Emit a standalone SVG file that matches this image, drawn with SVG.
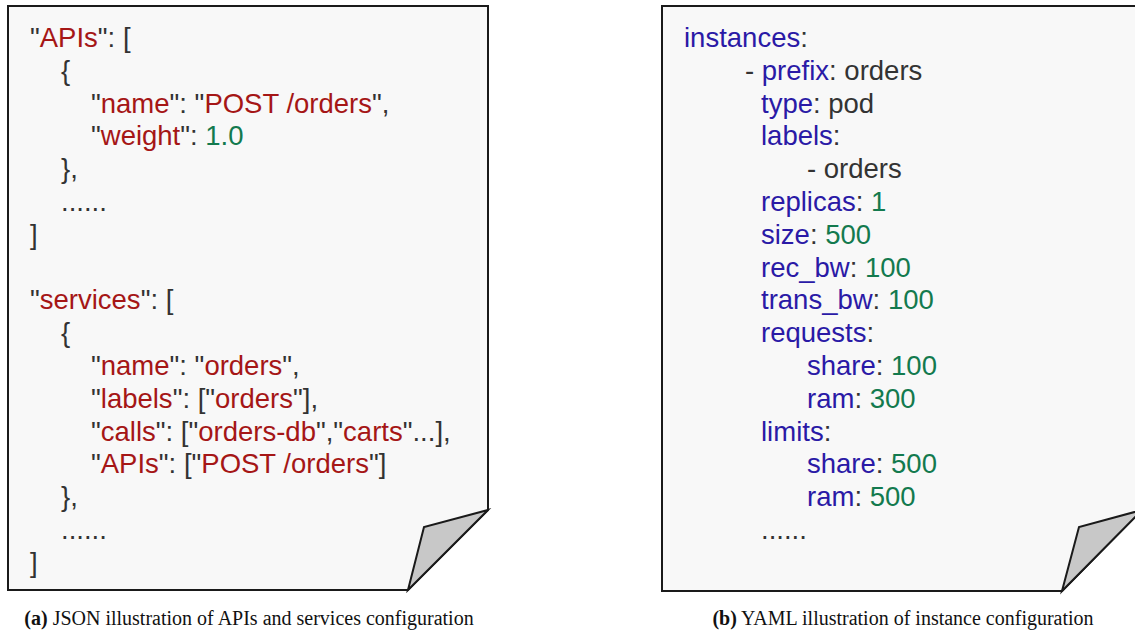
<svg xmlns="http://www.w3.org/2000/svg" width="1135" height="635" viewBox="0 0 1135 635">
<style>
.page{fill:#f8f8f8;stroke:#1a1a1a;stroke-width:2;stroke-linejoin:miter}
.fold{fill:#c8c8c8;stroke:#1a1a1a;stroke-width:2;stroke-linejoin:miter}
.code{font-family:"Liberation Sans",Arial,sans-serif;font-size:27.5px;fill:#333333}
.s{fill:#a51616}
.n{fill:#137a4e}
.k{fill:#2a1aa6}
.cap{font-family:"Liberation Serif","Times New Roman",serif;font-size:20px;fill:#111111;text-anchor:middle}
.b{font-weight:bold}
</style>
<rect width="1135" height="635" fill="#ffffff"/>
<g id="json-doc">
<path class="page" d="M8,6 H488 V510 L408,590 H8 Z"/>
<path class="fold" d="M408,590 L424,527 L488,510 Z"/>
<g class="code">
<text x="30" y="47">"<tspan class="s">APIs</tspan>": [</text>
<text x="61" y="79.8">{</text>
<text x="91" y="112.6">"<tspan class="s">name</tspan>": "<tspan class="s">POST /orders</tspan>",</text>
<text x="91" y="145.4">"<tspan class="s">weight</tspan>": <tspan class="n">1.0</tspan></text>
<text x="61" y="178.2">},</text>
<text x="61" y="211">......</text>
<text x="30" y="243.8">]</text>
<text x="30" y="309.4">"<tspan class="s">services</tspan>": [</text>
<text x="61" y="342.2">{</text>
<text x="91" y="375">"<tspan class="s">name</tspan>": "<tspan class="s">orders</tspan>",</text>
<text x="91" y="407.8">"<tspan class="s">labels</tspan>": ["<tspan class="s">orders</tspan>"],</text>
<text x="91" y="440.6">"<tspan class="s">calls</tspan>": ["<tspan class="s">orders-db</tspan>","<tspan class="s">carts</tspan>"...],</text>
<text x="91" y="473.4">"<tspan class="s">APIs</tspan>": ["<tspan class="s">POST /orders</tspan>"]</text>
<text x="61" y="506.2">},</text>
<text x="61" y="539">......</text>
<text x="30" y="571.8">]</text>
</g>
</g>
<g id="yaml-doc">
<path class="page" d="M662,6 H1142 V510 L1062,591 H662 Z"/>
<path class="fold" d="M1062,591 L1079,527 L1142,510 Z"/>
<g class="code">
<text x="684" y="47"><tspan class="k">instances</tspan>:</text>
<text x="745" y="79.8">- <tspan class="k">prefix</tspan>: orders</text>
<text x="761" y="112.6"><tspan class="k">type</tspan>: pod</text>
<text x="761" y="145.4"><tspan class="k">labels</tspan>:</text>
<text x="807" y="178.2">- orders</text>
<text x="761" y="211"><tspan class="k">replicas</tspan>: <tspan class="n">1</tspan></text>
<text x="761" y="243.8"><tspan class="k">size</tspan>: <tspan class="n">500</tspan></text>
<text x="761" y="276.6"><tspan class="k">rec_bw</tspan>: <tspan class="n">100</tspan></text>
<text x="761" y="309.4"><tspan class="k">trans_bw</tspan>: <tspan class="n">100</tspan></text>
<text x="761" y="342.2"><tspan class="k">requests</tspan>:</text>
<text x="807" y="375"><tspan class="k">share</tspan>: <tspan class="n">100</tspan></text>
<text x="807" y="407.8"><tspan class="k">ram</tspan>: <tspan class="n">300</tspan></text>
<text x="761" y="440.6"><tspan class="k">limits</tspan>:</text>
<text x="807" y="473.4"><tspan class="k">share</tspan>: <tspan class="n">500</tspan></text>
<text x="807" y="506.2"><tspan class="k">ram</tspan>: <tspan class="n">500</tspan></text>
<text x="761" y="539">......</text>
</g>
</g>
<g id="captions">
<text class="cap" x="249" y="625"><tspan class="b">(a)</tspan> JSON illustration of APIs and services configuration</text>
<text class="cap" x="903" y="625"><tspan class="b">(b)</tspan> YAML illustration of instance configuration</text>
</g>
</svg>
